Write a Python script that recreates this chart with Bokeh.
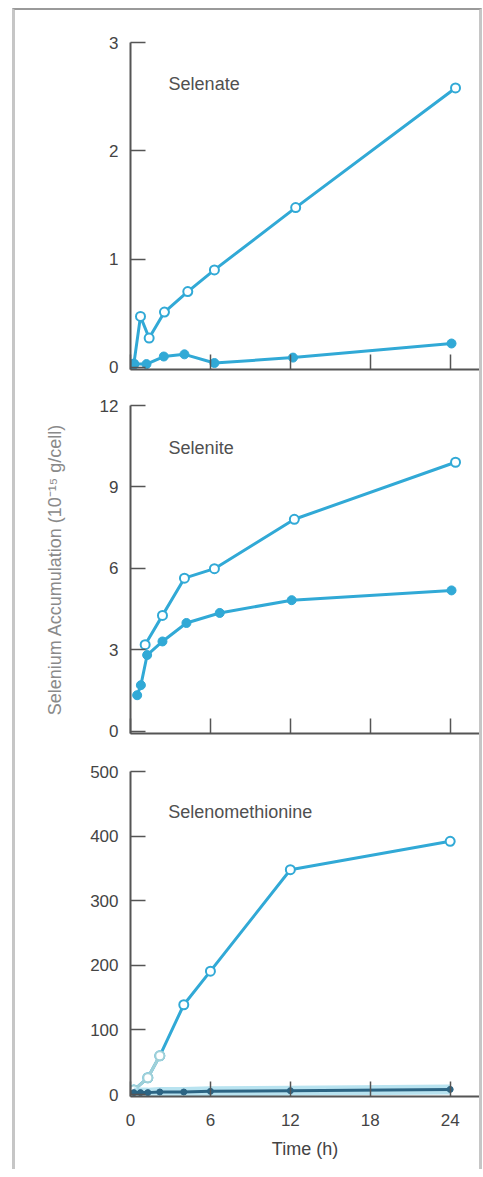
from bokeh.plotting import figure
from bokeh.models import FixedTicker, Label
from bokeh.layouts import column
from bokeh.embed import file_html
from bokeh.resources import INLINE

# ---------------- data ----------------
time_ticks = [0, 6, 12, 18, 24]

selenate_t_open = [0.25, 0.75, 1.4, 2.55, 4.3, 6.3, 12.4, 24.4]
selenate_open = [0.03, 0.47, 0.27, 0.51, 0.70, 0.90, 1.475, 2.58]
selenate_t_closed = [0.25, 1.2, 2.5, 4.05, 6.3, 12.2, 24.1]
selenate_closed = [0.03, 0.03, 0.10, 0.12, 0.04, 0.09, 0.22]

selenite_t_open = [1.1, 2.4, 4.05, 6.3, 12.3, 24.4]
selenite_open = [3.19, 4.27, 5.64, 5.99, 7.81, 9.91]
selenite_t_closed = [0.5, 0.78, 1.25, 2.4, 4.2, 6.7, 12.1, 24.1]
selenite_closed = [1.33, 1.70, 2.81, 3.31, 3.99, 4.36, 4.83, 5.19]

selenomet_t_open = [0.25, 1.3, 2.2, 4.0, 6.0, 12.0, 24.0]
selenomet_open = [7, 26, 60, 139, 191, 348, 392]
selenomet_t_closed = [0.25, 0.75, 1.3, 2.2, 4.0, 6.0, 12.0, 24.0]
selenomet_closed = [3, 3, 3, 4, 4, 5, 6, 8]

# ---------------- style ----------------
BLUE = "#31a9d6"
AXIS = "#555555"
TEXT = "#444444"
FONT = "Liberation Sans"
W = 464


def panel(height, yrange, yticks, top, bottom, title, tx, ty, xlabels):
    p = figure(width=W, height=height, x_range=(0, 26.2), y_range=yrange,
               output_backend="svg", toolbar_location=None,
               min_border_left=115, min_border_right=0,
               min_border_top=top, min_border_bottom=bottom)
    p.outline_line_color = None
    p.grid.visible = False
    for ax in (p.xaxis[0], p.yaxis[0]):
        ax.axis_line_color = AXIS
        ax.axis_line_width = 2
        ax.major_tick_line_color = AXIS
        ax.major_tick_line_width = 1.5
        ax.major_tick_in = 15
        ax.major_tick_out = 0
        ax.minor_tick_line_color = None
        ax.major_label_text_font = FONT
        ax.major_label_text_font_size = "17px"
        ax.major_label_text_color = TEXT
    p.yaxis.ticker = FixedTicker(ticks=yticks)
    p.yaxis.major_label_standoff = 12
    p.xaxis.ticker = FixedTicker(ticks=time_ticks)
    if xlabels:
        p.xaxis.major_label_standoff = 17
        p.xaxis.axis_label = "Time (h)"
        p.xaxis.axis_label_text_font = FONT
        p.xaxis.axis_label_text_font_size = "18px"
        p.xaxis.axis_label_text_font_style = "normal"
        p.xaxis.axis_label_text_color = TEXT
        p.xaxis.axis_label_standoff = 10
    else:
        p.xaxis.major_label_overrides = {t: "" for t in time_ticks}
        p.xaxis.major_label_standoff = 0
    p.add_layout(Label(x=tx, y=ty, text=title, text_font=FONT,
                       text_font_size="18px", text_color="#505050",
                       text_baseline="middle"))
    return p


def series(p, t, y, filled, color=BLUE):
    p.line(t, y, line_color=color, line_width=3)
    if filled:
        p.scatter(t, y, size=9, fill_color=color, line_color=color)
    else:
        p.scatter(t, y, size=9, fill_color="white", line_color=color, line_width=2)


p1 = panel(375, (-0.02, 3), [0, 1, 2, 3], 32, 16, "Selenate", 2.86, 2.62, False)
series(p1, selenate_t_open, selenate_open, False)
series(p1, selenate_t_closed, selenate_closed, True)

p2 = panel(375, (-0.08, 12), [0, 3, 6, 9, 12], 20, 27, "Selenite", 2.86, 10.43, False)
p2.yaxis.axis_label = "Selenium Accumulation (10\u207b\u00b9\u2075 g/cell)"
p2.yaxis.axis_label_text_font = FONT
p2.yaxis.axis_label_text_font_size = "18px"
p2.yaxis.axis_label_text_font_style = "normal"
p2.yaxis.axis_label_text_color = "#8a8a8a"
p2.yaxis.axis_label_standoff = 32
series(p2, selenite_t_open, selenite_open, False)
series(p2, selenite_t_closed, selenite_closed, True)

p3 = panel(409, (-3, 500), [0, 100, 200, 300, 400, 500], 11, 73,
           "Selenomethionine", 2.83, 437, True)
series(p3, selenomet_t_open, selenomet_open, False)
# faded early part of the open curve
p3.line(selenomet_t_open[:3], selenomet_open[:3], line_color="#9fd0d8", line_width=3)
p3.scatter(selenomet_t_open[:3], selenomet_open[:3], size=9, fill_color="white",
           line_color="#9fd0d8", line_width=2)
# closed curve near zero: light halo with a dark core
p3.line(selenomet_t_closed, selenomet_closed, line_color="#a6dcec", line_width=10, line_alpha=0.8)
p3.line(selenomet_t_closed, selenomet_closed, line_color="#2d6584", line_width=3)
p3.scatter(selenomet_t_closed, selenomet_closed, size=6, fill_color="#2d6584", line_color="#2d6584")

layout = column(p1, p2, p3, styles={
    "border-left": "3px solid #c6c6c6",
    "border-right": "3px solid #c6c6c6",
    "border-top": "2px solid #9a9a9a",
    "margin-left": "12px",
    "margin-top": "8px",
})

open("out.html", "w").write(file_html(layout, INLINE))
